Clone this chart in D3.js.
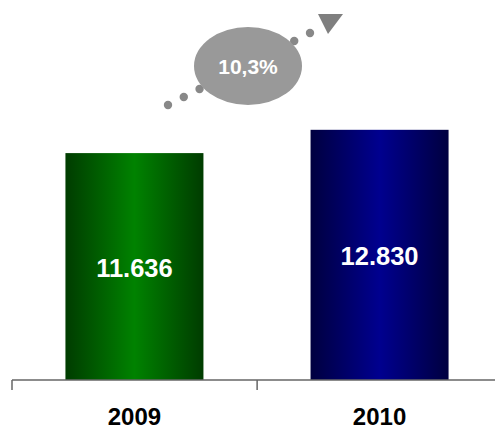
<!DOCTYPE html>
<html>
<head>
<meta charset="utf-8">
<script src="https://cdn.jsdelivr.net/npm/d3@7"></script>
<style>
  body { margin: 0; background: #fff; }
  svg { display: block; font-family: Arial, "Liberation Sans", sans-serif; }
</style>
</head>
<body>
<div id="chart"></div>
<script>
// Data
const years = ["2009", "2010"];
const values = [11636, 12830];
const valueLabels = ["11.636", "12.830"];
const growthLabel = "10,3%";

const size = { width: 495, height: 430 };
const margin = { left: 12, right: -7, top: 107, bottom: 50 };

const svg = d3.select("#chart")
  .append("svg")
  .attr("width", size.width)
  .attr("height", size.height);

// Scales
const x = d3.scaleBand(years, [margin.left, size.width - margin.right])
  .paddingInner(0.437)
  .paddingOuter(0.218);
const y = d3.scaleLinear([0, 14000], [size.height - margin.bottom, margin.top]);

// Gradients
const defs = svg.append("defs");
const grads = [
  { id: "g2009", edge: "#003c00", mid: "#008200" },
  { id: "g2010", edge: "#00003f", mid: "#00008f" }
];
grads.forEach((g) => {
  const lg = defs.append("linearGradient").attr("id", g.id)
    .attr("x1", "0%").attr("x2", "100%").attr("y1", "0%").attr("y2", "0%");
  lg.append("stop").attr("offset", "0%").attr("stop-color", g.edge);
  lg.append("stop").attr("offset", "50%").attr("stop-color", g.mid);
  lg.append("stop").attr("offset", "100%").attr("stop-color", g.edge);
});

// Bars
svg.append("g")
  .selectAll("rect")
  .data(years)
  .join("rect")
  .attr("x", (d) => x(d))
  .attr("y", (d, i) => y(values[i]))
  .attr("width", x.bandwidth())
  .attr("height", (d, i) => y(0) - y(values[i]))
  .attr("fill", (d) => `url(#g${d})`);

// Value labels
svg.append("g")
  .selectAll("text")
  .data(years)
  .join("text")
  .attr("x", (d) => x(d) + x.bandwidth() / 2)
  .attr("y", (d, i) => (y(0) + y(values[i])) / 2 + 10)
  .attr("text-anchor", "middle")
  .attr("fill", "#fff")
  .attr("font-weight", "bold")
  .attr("font-size", "25.5px")
  .text((d, i) => valueLabels[i]);

// Axis
const step = x.step();
const axisG = svg.append("g")
  .attr("transform", `translate(0,${y(0)})`);
axisG.append("line")
  .attr("x1", margin.left).attr("x2", size.width)
  .attr("stroke", "#666").attr("stroke-width", 1.5);
axisG.selectAll("line.tick")
  .data([0, 1])
  .join("line")
  .attr("class", "tick")
  .attr("x1", (d) => margin.left + d * step)
  .attr("x2", (d) => margin.left + d * step)
  .attr("y1", 0).attr("y2", 10)
  .attr("stroke", "#666").attr("stroke-width", 1.5);

svg.append("g")
  .selectAll("text")
  .data(years)
  .join("text")
  .attr("x", (d) => x(d) + x.bandwidth() / 2)
  .attr("y", 425)
  .attr("text-anchor", "middle")
  .attr("font-weight", "bold")
  .attr("font-size", "24px")
  .attr("fill", "#000")
  .text((d) => d);

// Growth annotation
const arrow = svg.append("g");
const dotsStart = [168, 105], dotsEnd = [310, 33];
const nDots = 10;
arrow.selectAll("circle")
  .data(d3.range(nDots))
  .join("circle")
  .attr("cx", (i) => dotsStart[0] + (dotsEnd[0] - dotsStart[0]) * i / (nDots - 1))
  .attr("cy", (i) => dotsStart[1] + (dotsEnd[1] - dotsStart[1]) * i / (nDots - 1))
  .attr("r", 4.2)
  .attr("fill", "#888");
arrow.append("polygon")
  .attr("points", "318,14 343,14 328,34")
  .attr("fill", "#7f7f7f");
arrow.append("ellipse")
  .attr("cx", 248).attr("cy", 66)
  .attr("rx", 54).attr("ry", 39)
  .attr("fill", "#999");
arrow.append("text")
  .attr("x", 248).attr("y", 74)
  .attr("text-anchor", "middle")
  .attr("fill", "#fff")
  .attr("font-weight", "bold")
  .attr("font-size", "21px")
  .text(growthLabel);
</script>
</body>
</html>
